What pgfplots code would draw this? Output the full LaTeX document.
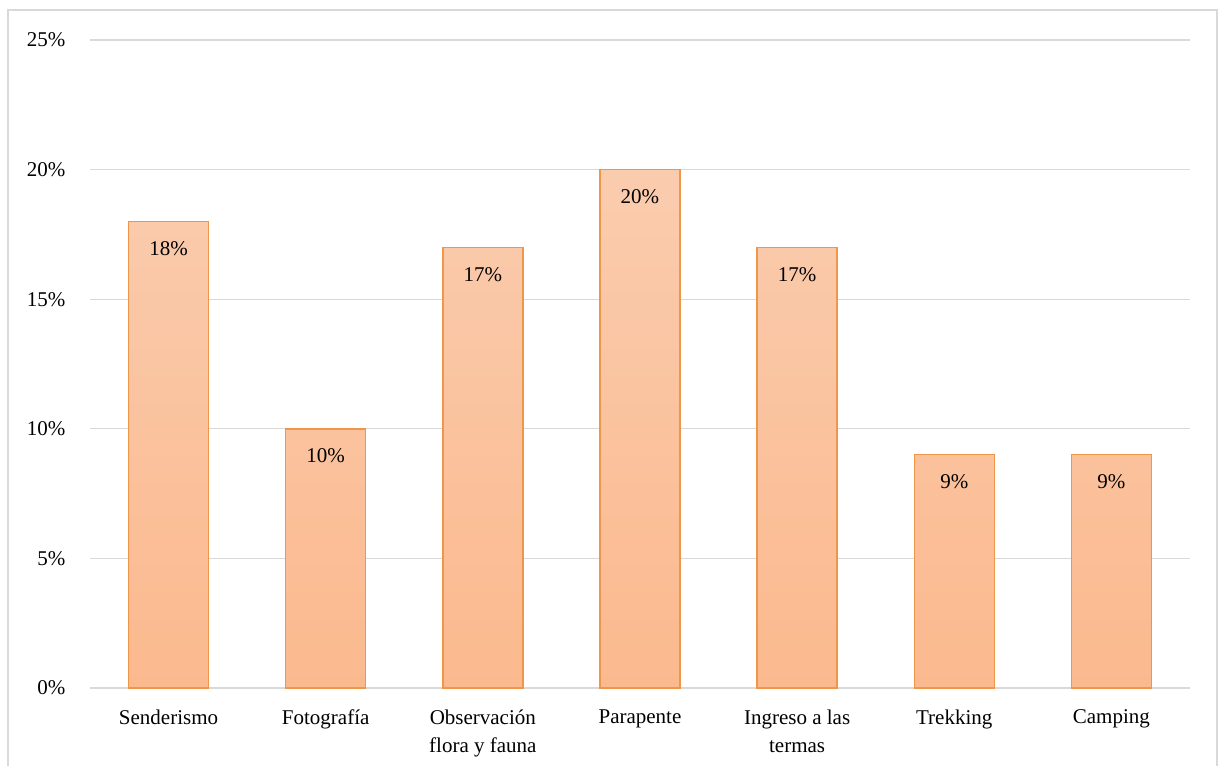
\documentclass[border=0pt]{standalone}
\usepackage{pgfplots}
\pgfplotsset{compat=1.18}
\usepackage{fontspec}
\setmainfont{Liberation Serif}
\definecolor{barline}{RGB}{240,150,75}
\definecolor{bartop}{RGB}{250,204,174}
\definecolor{barbot}{RGB}{251,185,142}
\definecolor{gridc}{RGB}{217,217,217}
\begin{document}
\begin{tikzpicture}[x=1pt,y=1pt]
\useasboundingbox (0,0) rectangle (1219,766);
\draw[gridc, line width=1.2pt] (8,-2) -- (8,756) -- (1217,756) -- (1217,-2);
\begin{axis}[
  at={(90pt,78pt)}, anchor=south west,
  scale only axis, width=1100pt, height=648pt,
  xmin=-0.5, xmax=6.5, ymin=0, ymax=25,
  ytick={0,5,...,25},
  yticklabel={\pgfmathprintnumber{\tick}\%},
  /pgf/number format/assume math mode=true,
  xtick=data,
  xticklabels={Senderismo,Fotografía,Observación\\flora y fauna,Parapente,Ingreso a las\\termas,Trekking,Camping},
  xticklabel style={align=center},
  x tick label style={yshift=-18pt},
  ticklabel style={font=\fontsize{21}{28}\selectfont},
  y tick label style={xshift=-21pt},
  major tick length=0pt,
  ymajorgrids, grid style={gridc, line width=1.2pt},
  axis x line*=bottom, axis y line*=left,
  x axis line style={gridc, line width=1.2pt, -},
  y axis line style={draw=none},
  enlarge x limits=false,
  clip=false,
  nodes near coords={\pgfmathprintnumber{\pgfplotspointmeta}\%},
  every node near coord/.append style={anchor=north, yshift=-16pt, font=\fontsize{21}{25}\selectfont, text=black},
]
\addplot[ybar, bar width=80pt, draw=barline, line width=1.5pt, shade, top color=bartop, bottom color=barbot]
coordinates {(0,18) (1,10) (2,17) (3,20) (4,17) (5,9) (6,9)};
\end{axis}
\end{tikzpicture}
\end{document}
